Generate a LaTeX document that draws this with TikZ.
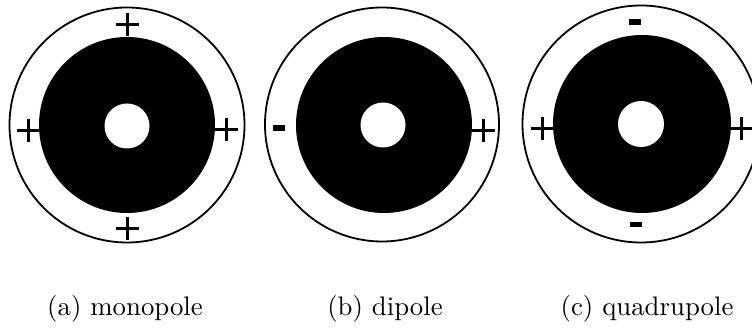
\documentclass[tikz,border=0pt]{standalone}
\begin{document}
\begin{tikzpicture}[x=1pt,y=-1pt,
  outerring/.style={draw=black,line width=1.8pt},
  blackdisk/.style={fill=black},
  hole/.style={fill=white},
  signstroke/.style={line width=3pt,line cap=butt},
  caption/.style={scale=2.68,anchor=base,inner sep=0pt},
  plussign/.pic={\draw[signstroke] (-11.5,0) -- (11.5,0) (0,-11.5) -- (0,11.5);},
  minussign/.pic={\fill (-6,-2.6) rectangle (6,2.6);}
]
\useasboundingbox (0,0) rectangle (752,328);
\begin{scope}
\clip (0,0) rectangle (752,328);
% (a) monopole
\draw[outerring] (127,125) circle[radius=117.5];
\fill[blackdisk] (127,125) circle[radius=88];
\fill[hole] (127,126) circle[radius=22.5];
\pic at (127,25) {plussign};
\pic at (28,131) {plussign};
\pic at (226,130) {plussign};
\pic at (127,228.5) {plussign};
% (b) dipole
\draw[outerring] (382,124.5) circle[radius=117];
\fill[blackdisk] (384,125) circle[radius=88];
\fill[hole] (383,125) circle[radius=22.5];
\pic at (279,128) {minussign};
\pic at (483,131) {plussign};
% (c) quadrupole
\draw[outerring] (641,124) circle[radius=118.5];
\fill[blackdisk] (642,124) circle[radius=89];
\fill[hole] (641,124) circle[radius=23];
\pic at (635,22) {minussign};
\pic at (636,224.5) {minussign};
\pic at (542,129) {plussign};
\pic at (741,129) {plussign};
\end{scope}
% captions
\node[caption] (capa) at (125,316) {(a) monopole};
\node[caption] (capb) at (385,316) {(b) dipole};
\node[caption] (capc) at (647,316) {(c) quadrupole};
\end{tikzpicture}
\end{document}
